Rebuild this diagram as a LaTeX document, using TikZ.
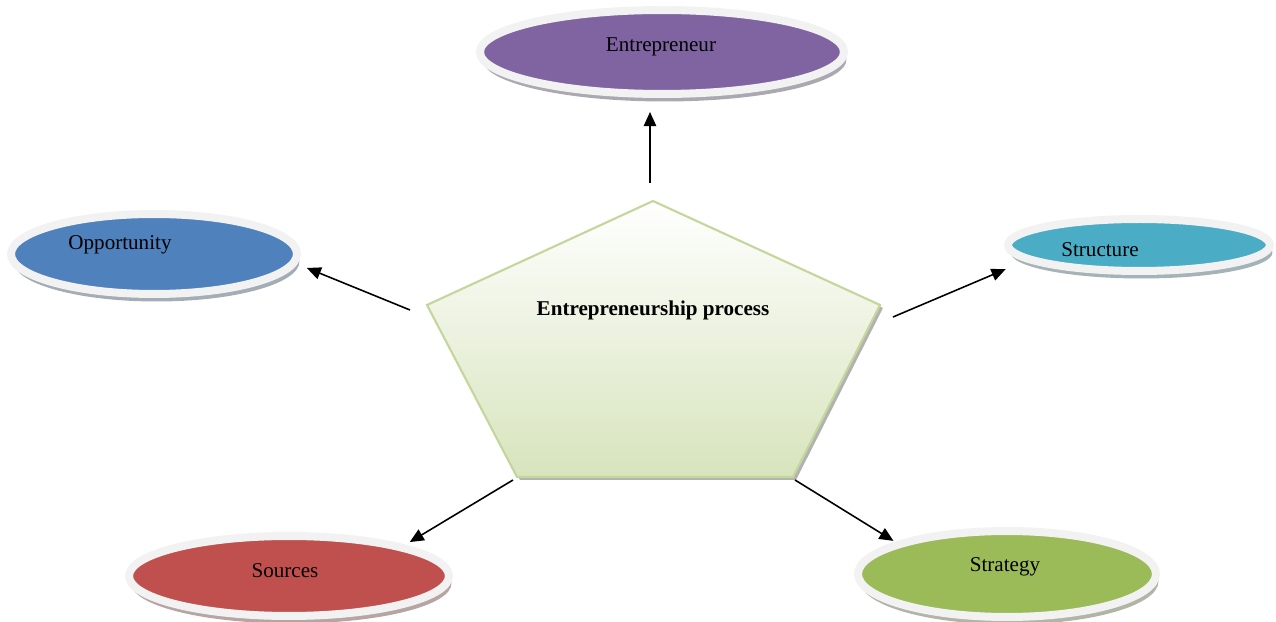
\documentclass[tikz,border=0pt]{standalone}
\usepackage{fontspec}
\setmainfont{Liberation Serif}
\usepackage{tikz}
\usetikzlibrary{positioning,arrows.meta,shapes.geometric,shadows,calc}
\definecolor{entrecolor}{RGB}{128,100,162}
\definecolor{oppcolor}{RGB}{79,129,189}
\definecolor{structcolor}{RGB}{75,172,198}
\definecolor{srccolor}{RGB}{192,80,77}
\definecolor{stratcolor}{RGB}{155,187,89}
\definecolor{rimcolor}{RGB}{242,242,242}
\definecolor{penline}{RGB}{195,214,155}
\definecolor{penfill}{RGB}{215,228,189}

\begin{document}
\begin{tikzpicture}[x=0.02cm, y=0.02cm,
  bubble/.style={ellipse, draw=rimcolor, line width=0.16cm, fill=#1, inner sep=0pt,
    drop shadow={shadow xshift=0.05cm, shadow yshift=-0.15cm, fill=#1!25!gray, opacity=0.65}},
  tag/.style={font=\fontsize{12}{14}\selectfont, text=black},
  link/.style={line width=0.9pt, -{Triangle[length=8pt,width=7pt]}}]
  \useasboundingbox (0,0) rectangle (1276,622);

  % Process pentagon
  \coordinate (p-top) at (653,421);
  \coordinate (p-right) at (880,317);
  \coordinate (p-br) at (793,145);
  \coordinate (p-bl) at (517,145);
  \coordinate (p-left) at (427,317);
  \path[draw=penline, line width=1.2pt, top color=white, bottom color=penfill,
        drop shadow={shadow xshift=0.06cm, shadow yshift=-0.06cm, fill=gray!60, opacity=1}]
    (p-top) -- (p-right) -- (p-br) -- (p-bl) -- (p-left) -- cycle;
  \node[tag, font=\bfseries\fontsize{12}{14}\selectfont] (proc) at (653,312) {Entrepreneurship process};

  % Elements
  \node[bubble=entrecolor, minimum width=7.28cm, minimum height=1.68cm,
        label={[tag, xshift=-0.02cm, yshift=0.10cm]center:Entrepreneur}] (entre) at (662,570) {};
  \node[bubble=oppcolor, minimum width=5.72cm, minimum height=1.60cm,
        label={[tag, xshift=-0.68cm, yshift=0.18cm]center:Opportunity}] (opp) at (154,368) {};
  \node[bubble=structcolor, minimum width=5.24cm, minimum height=1.04cm,
        label={[tag, xshift=-0.78cm, yshift=-0.10cm]center:Structure}] (struct) at (1139,377) {};
  \node[bubble=srccolor, minimum width=6.40cm, minimum height=1.60cm,
        label={[tag, xshift=-0.08cm, yshift=0.11cm]center:Sources}] (src) at (289,46) {};
  \node[bubble=stratcolor, minimum width=5.96cm, minimum height=1.72cm,
        label={[tag, xshift=-0.04cm, yshift=0.14cm]center:Strategy}] (strat) at (1007,48) {};

  % Arrows
  \coordinate (t-entre) at (650,439);
  \coordinate (t-opp) at (410,312);
  \coordinate (t-struct) at (893,305);
  \coordinate (t-src) at (513,142);
  \coordinate (t-strat) at (795,142);
  \draw[link, shorten >=0.28cm] (t-entre) -- (t-entre |- entre.south);
  \draw[link, shorten >=0.21cm] (t-opp) -- (opp.-4.9);
  \draw[link, shorten >=0.42cm] (t-struct) -- (struct.188.7);
  \draw[link, shorten >=0.11cm] (t-src) -- (src.15);
  \draw[link, shorten >=0.04cm] (t-strat) -- (strat.164);

\end{tikzpicture}
\end{document}
